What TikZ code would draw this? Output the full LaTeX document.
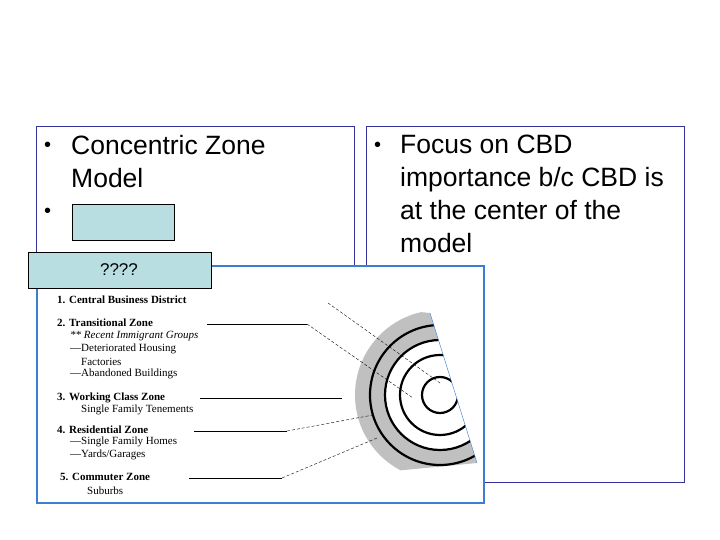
\documentclass[tikz,border=0pt]{standalone}
\usepackage{fontspec}
\setmainfont{Liberation Serif}
\newfontfamily\sansf{Liberation Sans}
\usetikzlibrary{positioning}
\definecolor{framenavy}{HTML}{333399}
\definecolor{imgblue}{HTML}{3C7FD0}
\definecolor{tagfill}{HTML}{B9DEE2}
\definecolor{zonegray}{HTML}{C0C0C0}
\tikzset{
	bigtext/.style={font=\sansf\fontsize{26.5}{33}\selectfont, inner sep=0pt, anchor=north west, align=left},
	dot/.style={font=\sansf\fontsize{20}{33}\selectfont, inner sep=0pt, anchor=north west},
	key/.style={font=\fontsize{11}{12}\selectfont, inner sep=0pt, anchor=west, align=left},
	lead/.style={draw=black, thin, solid},
	leaddash/.style={draw=black, thin, densely dashed},
	ring/.style={draw=black, line width=2.2pt},
}
\begin{document}
\begin{tikzpicture}[x=1pt,y=-1pt]
	\useasboundingbox (0,0) rectangle (720,540);
	% text boxes
	\draw[draw=framenavy, thin] (36,126) rectangle (354,482);
	\draw[draw=framenavy, thin] (366,126) rectangle (684,482);
	\node[dot] (bulA) at (44,142) {•};
	\node[bigtext] (txtA) at (71,135) {Concentric Zone\\Model};
	\node[dot] (bulB) at (44,208) {•};
	\node[dot] (bulC) at (374,142) {•};
	\node[bigtext] (txtC) at (400,135) {Focus on CBD\\importance b/c CBD is\\at the center of the\\model};
	\draw[draw=black, fill=tagfill] (72,204) rectangle (174,240);
	% picture
	\draw[draw=imgblue, line width=2pt, fill=white] (37,266) rectangle (484,503);
	\draw[draw=black, fill=tagfill] (28,252) rectangle (211,288);
	\node[font=\sansf\fontsize{17}{17}\selectfont] (qq) at (119,270) {????};
	% zones
	\begin{scope}
		\clip (300,300) -- (430,313) -- (477,463) -- (300,480) -- cycle;
		\fill[zonegray] (440,395) circle (85);
		\fill[white] (440,395) circle (55);
		\draw[ring] (440,395) circle (70);
		\draw[ring] (440,395) circle (55);
		\draw[ring] (440,395) circle (40);
		\draw[ring] (440,395) circle (18);
	\end{scope}
	\draw[draw=imgblue, thin] (430,313) -- (477,463);
	% key
	\node[key] (z1) at (57,300) {\textbf{1. Central Business District}};
	\node[key] (z2) at (57,323) {\textbf{2. Transitional Zone}};
	\node[key] (z2a) at (70,336) {\textit{** Recent Immigrant Groups}};
	\node[key] (z2b) at (70,349) {---Deteriorated Housing};
	\node[key] (z2c) at (81,362) {Factories};
	\node[key] (z2d) at (70,374) {---Abandoned Buildings};
	\node[key] (z3) at (57,398) {\textbf{3. Working Class Zone}};
	\node[key] (z3a) at (81,410) {Single Family Tenements};
	\node[key] (z4) at (57,430) {\textbf{4. Residential Zone}};
	\node[key] (z4a) at (70,442) {---Single Family Homes};
	\node[key] (z4b) at (70,455) {---Yards/Garages};
	\node[key] (z5) at (60,477) {\textbf{5. Commuter Zone}};
	\node[key] (z5a) at (87,491) {Suburbs};
	% leaders
	\coordinate (p1) at (328,303);
	\coordinate (q1) at (440,383);
	\coordinate (p2) at (207,324);
	\coordinate (k2) at (307,324);
	\coordinate (q2) at (413,398);
	\coordinate (p3) at (200,398);
	\coordinate (k3) at (342,398);
	\coordinate (p4) at (194,431);
	\coordinate (k4) at (287,431);
	\coordinate (q4) at (373,415);
	\coordinate (p5) at (189,478);
	\coordinate (k5) at (282,478);
	\coordinate (q5) at (377,438);
	\draw[leaddash] (p1) -- (q1);
	\draw[lead] (p2) -- (k2);
	\draw[leaddash] (k2) -- (q2);
	\draw[lead] (p3) -- (k3);
	\draw[lead] (p4) -- (k4);
	\draw[leaddash] (k4) -- (q4);
	\draw[lead] (p5) -- (k5);
	\draw[leaddash] (k5) -- (q5);
\end{tikzpicture}
\end{document}
